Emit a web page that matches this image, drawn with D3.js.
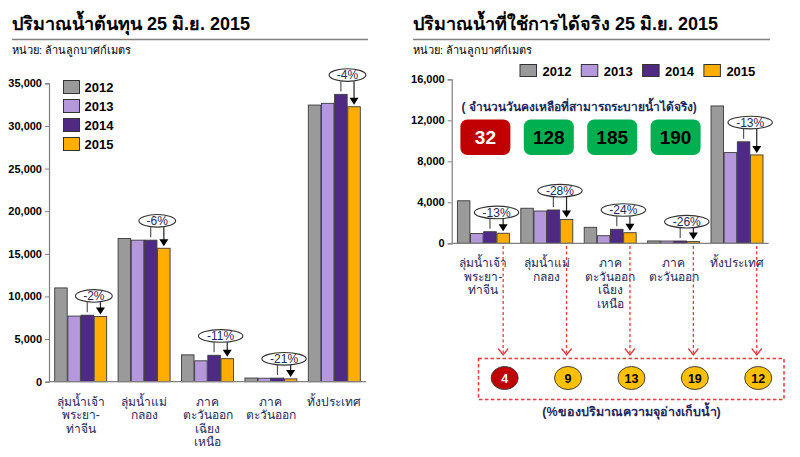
<!DOCTYPE html>
<html><head><meta charset="utf-8">
<script src="https://cdn.jsdelivr.net/npm/d3@7"></script>
<style>body{margin:0;background:#fff} svg{display:block;font-family:Tahoma,"Liberation Sans","Noto Sans",sans-serif}</style>
</head><body><svg id="c" width="800" height="457"></svg>
<script>
const years = ["2012","2013","2014","2015"];
const yearColors = ["#9a9a9a","#b598db","#4e2a84","#ffae00"];
const categories = [["ลุ่มน้ำเจ้า","พระยา-","ท่าจีน"],["ลุ่มน้ำแม่","กลอง"],["ภาค","ตะวันออก","เฉียง","เหนือ"],["ภาค","ตะวันออก"],["ทั้งประเทศ"]];
// left chart: total water (million m3)
const total2012 = [11000,16800,3150,430,32450];
const total2013 = [7700,16600,2450,410,32650];
const total2014 = [7800,16600,3100,420,33700];
const total2015 = [7650,15650,2700,330,32250];
const totalChange = ["-2%","-6%","-11%","-21%","-4%"];
const totalTicks = [0,5000,10000,15000,20000,25000,30000,35000];
// right chart: usable water
const usable2012 = [4150,3420,1560,230,13400];
const usable2013 = [950,3150,740,220,8850];
const usable2014 = [1130,3250,1365,225,9900];
const usable2015 = [980,2330,1035,165,8620];
const usableChange = ["-13%","-28%","-24%","-26%","-13%"];
const usableTicks = [0,4000,8000,12000,16000];
const daysLeft = [32,128,185,190];
const daysCritical = [true,false,false,false];
const storagePct = [4,9,13,19,12];
const storageCritical = [true,false,false,false,false];

const svg = d3.select("#c");
const navy = "#1f2a5c";

function header(x, x2, title){
  svg.append("text").attr("x",x).attr("y",30).attr("font-size",18).attr("font-weight","bold").attr("fill","#000").text(title);
  svg.append("line").attr("x1",x).attr("x2",x2).attr("y1",39.5).attr("y2",39.5).attr("stroke","#808080").attr("stroke-width",1.5);
  svg.append("text").attr("x",x).attr("y",54).attr("font-size",11).attr("fill","#000").text("หน่วย: ล้านลูกบาศก์เมตร");
}

function chart(o){
  const g = svg.append("g");
  const x = d3.scaleBand().domain(d3.range(categories.length)).range([o.x0, o.x0+317]).paddingInner(0.18).paddingOuter(0.09);
  const x1 = d3.scaleBand().domain(years).range([0, x.bandwidth()]).paddingInner(0.05);
  const y = d3.scaleLinear().domain([0, o.max]).range([o.yBottom, o.yTop]);
  const ax = g.append("g").attr("transform",`translate(${o.x0},0)`)
    .call(d3.axisLeft(y).tickValues(o.ticks).tickSize(4).tickPadding(3).tickFormat(d3.format(",")));
  ax.select(".domain").attr("stroke","#808080").attr("stroke-width",1.2);
  ax.selectAll(".tick line").attr("stroke","#808080");
  ax.selectAll(".tick text").attr("font-size",11).attr("font-weight","bold").attr("fill","#000").attr("font-family","Tahoma,'Liberation Sans',sans-serif");
  const series = o.series;
  categories.forEach((c,i)=>{
    years.forEach((yr,j)=>{
      const v = series[j][i];
      g.append("rect").attr("x",x(i)+x1(yr)).attr("y",y(v)).attr("width",x1.bandwidth()).attr("height",y(0)-y(v))
        .attr("fill",yearColors[j]).attr("stroke","#3a3a3a").attr("stroke-width",0.9);
    });
  });
  g.append("line").attr("x1",o.x0).attr("x2",o.x0+317).attr("y1",y(0)).attr("y2",y(0)).attr("stroke","#808080").attr("stroke-width",1.2);
  // category labels
  categories.forEach((lines,i)=>{
    const t = g.append("text").attr("text-anchor","middle").attr("font-size",12).attr("fill",navy);
    lines.forEach((l,k)=>t.append("tspan").attr("x",x(i)+x.bandwidth()/2).attr("y",y(0)+24+k*13.4).text(l));
  });
  // change annotations
  const anchors = [];
  categories.forEach((c,i)=>{
    const bw = x1.bandwidth();
    const px = x(i)+x1("2014")+bw/2, ox = x(i)+x1("2015")+bw/2;
    const v14 = series[2][i], v15 = series[3][i];
    anchors.push(ox);
    const top = Math.min(y(v14), y(v15));
    const ry = 6.3, cy = top-13-ry, cx = (px+ox)/2;
    const lab = o.change[i];
    const rx = lab.length*3.8+7;
    g.append("line").attr("x1",px).attr("x2",px).attr("y1",cy+ry).attr("y2",y(v14)-3).attr("stroke","#555").attr("stroke-width",1.2);
    const yEnd = y(v15)-2;
    g.append("line").attr("x1",ox).attr("x2",ox).attr("y1",cy+ry).attr("y2",yEnd-6).attr("stroke","#222").attr("stroke-width",1.2);
    g.append("path").attr("d",`M${ox-4.5},${yEnd-7}L${ox+4.5},${yEnd-7}L${ox},${yEnd}Z`).attr("fill","#000");
    g.append("ellipse").attr("cx",cx).attr("cy",cy).attr("rx",rx).attr("ry",ry).attr("fill","#fff").attr("stroke","#333").attr("stroke-width",1.1);
    g.append("text").attr("x",cx).attr("y",cy+4.2).attr("text-anchor","middle").attr("font-size",12).attr("fill",navy).text(lab);
  });
  return {x, y, anchors};
}

header(12, 368, "ปริมาณน้ำต้นทุน 25 มิ.ย. 2015");
header(413, 770, "ปริมาณน้ำที่ใช้การได้จริง 25 มิ.ย. 2015");

chart({x0:49, yBottom:381.7, yTop:83.3, max:35000, ticks:totalTicks, series:[total2012,total2013,total2014,total2015], change:totalChange});
const R = chart({x0:451.7, yBottom:243.3, yTop:79.3, max:16000, ticks:usableTicks, series:[usable2012,usable2013,usable2014,usable2015], change:usableChange});

// left legend (vertical)
years.forEach((yr,j)=>{
  svg.append("rect").attr("x",63.5).attr("y",80.5+j*19).attr("width",16).attr("height",13).attr("fill",yearColors[j]).attr("stroke","#333").attr("stroke-width",1);
  svg.append("text").attr("x",84.5).attr("y",92+j*19).attr("font-size",13).attr("font-weight","bold").attr("fill","#000").text(yr);
});
// right legend (horizontal)
years.forEach((yr,j)=>{
  const lx = 520+j*61.3;
  svg.append("rect").attr("x",lx).attr("y",64.5).attr("width",16.5).attr("height",12).attr("fill",yearColors[j]).attr("stroke","#333").attr("stroke-width",1);
  svg.append("text").attr("x",lx+22.5).attr("y",75.5).attr("font-size",13).attr("font-weight","bold").attr("fill","#000").text(yr);
});

// days-left boxes
svg.append("text").attr("x",461.5).attr("y",111).attr("font-size",12).attr("font-weight","bold").attr("fill",navy).text("( จำนวนวันคงเหลือที่สามารถระบายน้ำได้จริง)");
daysLeft.forEach((d,i)=>{
  const cx = R.x(i)+R.x.bandwidth()/2+2;
  svg.append("rect").attr("x",cx-25).attr("y",119.5).attr("width",50).attr("height",35.5).attr("rx",7)
    .attr("fill",daysCritical[i]?"#c00000":"#00b050");
  svg.append("text").attr("x",cx).attr("y",144).attr("text-anchor","middle").attr("font-size",19).attr("font-weight","bold")
    .attr("fill",daysCritical[i]?"#fff":"#000").text(d);
});

// connectors and storage % circles
const red = "#e8393a";
R.anchors.forEach(ax=>{
  svg.append("line").attr("x1",ax).attr("x2",ax).attr("y1",246).attr("y2",355).attr("stroke",red).attr("stroke-width",1.3).attr("stroke-dasharray","3,2.5");
  svg.append("path").attr("d",`M${ax-5},${348.5}L${ax},${355}L${ax+5},${348.5}`).attr("fill","none").attr("stroke",red).attr("stroke-width",1.3);
});
svg.append("rect").attr("x",478.5).attr("y",358.5).attr("width",305.5).attr("height",41).attr("fill","none")
  .attr("stroke",red).attr("stroke-width",1.5).attr("stroke-dasharray","3.5,2.5");
storagePct.forEach((p,i)=>{
  const cx = R.anchors[i]+1.5;
  svg.append("ellipse").attr("cx",cx).attr("cy",378).attr("rx",13.5).attr("ry",11.5)
    .attr("fill",storageCritical[i]?"#c00000":"#ffc000").attr("stroke","#404040").attr("stroke-width",1);
  svg.append("text").attr("x",cx).attr("y",382.5).attr("text-anchor","middle").attr("font-size",12.5).attr("font-weight","bold")
    .attr("fill",storageCritical[i]?"#fff":"#000").text(p);
});
svg.append("text").attr("x",631.5).attr("y",416).attr("text-anchor","middle").attr("font-size",12.5).attr("font-weight","bold").attr("fill",navy)
  .text("(%ของปริมาณความจุอ่างเก็บน้ำ)");
</script></body></html>
